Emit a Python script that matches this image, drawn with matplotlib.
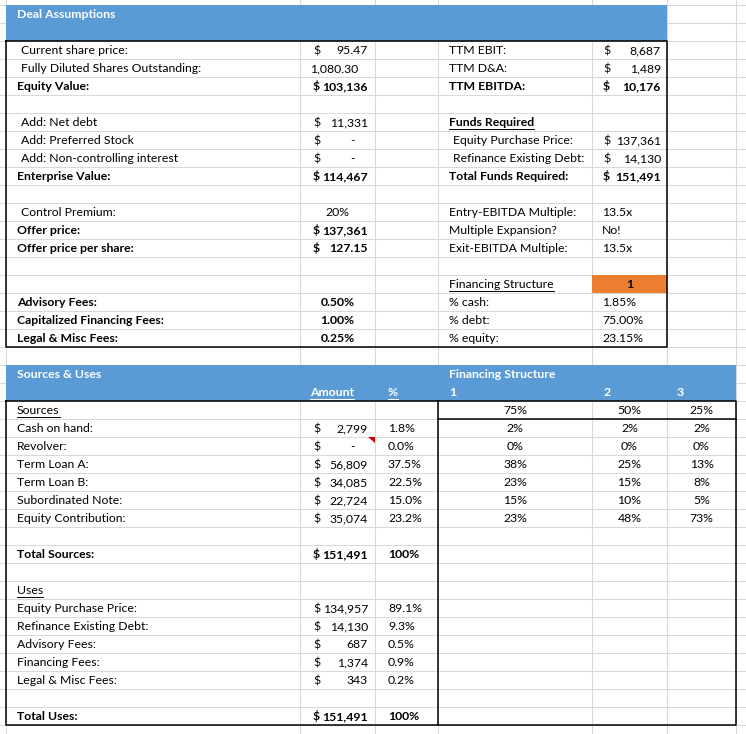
import matplotlib
matplotlib.use('Agg')
import matplotlib.pyplot as plt
from matplotlib.patches import Rectangle, Polygon

# ---------------- data ----------------
deal_title = "Deal Assumptions"
deal_left_labels = ["Current share price:", "Fully Diluted Shares Outstanding:", "Equity Value:", "",
                    "Add: Net debt", "Add: Preferred Stock", "Add: Non-controlling interest", "Enterprise Value:", "",
                    "Control Premium:", "Offer price:", "Offer price per share:", "", "",
                    "Advisory Fees:", "Capitalized Financing Fees:", "Legal & Misc Fees:"]
deal_left_values = [95.47, 1080.30, 103136, None,
                    11331, 0, 0, 114467, None,
                    0.20, 137361, 127.15, None, None,
                    0.0050, 0.0100, 0.0025]
deal_right_labels = ["TTM EBIT:", "TTM D&A:", "TTM EBITDA:", "",
                     "Funds Required", "Equity Purchase Price:", "Refinance Existing Debt:", "Total Funds Required:", "",
                     "Entry-EBITDA Multiple:", "Multiple Expansion?", "Exit-EBITDA Multiple:", "",
                     "Financing Structure", "% cash:", "% debt:", "% equity:"]
deal_right_values = [8687, 1489, 10176, None,
                     None, 137361, 14130, 151491, None,
                     13.5, "No!", 13.5, None,
                     1, 0.0185, 0.7500, 0.2315]

su_title = "Sources & Uses"
su_headers = ["Amount", "%"]
fs_title = "Financing Structure"
fs_structures = ["1", "2", "3"]
fs_debt_levels = [75, 50, 25]

source_labels = ["Cash on hand:", "Revolver:", "Term Loan A:", "Term Loan B:",
                 "Subordinated Note:", "Equity Contribution:"]
source_amounts = [2799, 0, 56809, 34085, 22724, 35074]
source_pcts = [1.8, 0.0, 37.5, 22.5, 15.0, 23.2]
fs_cash = [2, 2, 2]
fs_revolver = [0, 0, 0]
fs_term_a = [38, 25, 13]
fs_term_b = [23, 15, 8]
fs_sub_note = [15, 10, 5]
fs_equity = [23, 48, 73]
total_sources = 151491
total_sources_pct = 100

use_labels = ["Equity Purchase Price:", "Refinance Existing Debt:", "Advisory Fees:",
              "Financing Fees:", "Legal & Misc Fees:"]
use_amounts = [134957, 14130, 687, 1374, 343]
use_pcts = [89.1, 9.3, 0.5, 0.9, 0.2]
total_uses = 151491
total_uses_pct = 100

# ---------------- styles ----------------
deal_left_formats = ['acct2', 'num2', 'acct0', None, 'acct0', 'acct0', 'acct0', 'acct0', None,
                     'pct0', 'acct0', 'acct2', None, None, 'pct2', 'pct2', 'pct2']
deal_left_bold = [False, False, True, False, False, False, False, True, False,
                  False, True, True, False, False, True, True, True]
deal_left_value_bold = [False, False, True, False, False, False, False, True, False,
                        False, True, True, False, False, True, True, True]
deal_right_formats = ['acct0', 'acct0', 'acct0', None, None, 'acct0', 'acct0', 'acct0', None,
                      'mult', 'text', 'mult', None, 'orange', 'pct2l', 'pct2l', 'pct2l']
deal_right_bold = [False, False, True, False, True, False, False, True, False,
                   False, False, False, False, False, False, False, False]
deal_right_value_bold = [False, False, True, False, False, False, False, True, False,
                         False, False, False, False, True, False, False, False]
deal_right_under = [False] * 4 + [True] + [False] * 8 + [True] + [False] * 3
deal_right_indent = [0, 0, 0, 0, 0, 4, 4, 0, 0, 0, 0, 0, 0, 0, 0, 0, 0]

W, H = 746, 734
FONT = 'Lato'
FS = 8.8
GRID = '#d9d9d9'
BLUE = '#5b9bd5'
ORANGE = '#ed7d31'
BLACK = '#000000'
Y0, RH = 4.5, 18.0

fig = plt.figure(figsize=(W / 100, H / 100), dpi=100)
ax = fig.add_axes([0, 0, 1, 1])
ax.set_xlim(0, W)
ax.set_ylim(H, 0)
ax.axis('off')


def top(k):
    return Y0 + RH * k


def base(k):
    return top(k) + 14.0


col_x = [6, 300, 375, 438, 592, 667, 736]

# gridlines
for k in range(42):
    ax.plot([0, W], [top(k), top(k)], color=GRID, lw=0.75, zorder=1)
for x in col_x:
    ax.plot([x, x], [0, H], color=GRID, lw=0.75, zorder=1)

# fills
ax.add_patch(Rectangle((6, top(0)), 667 - 6, RH * 2, facecolor=BLUE, edgecolor='none', zorder=2))
ax.add_patch(Rectangle((6, top(20)), 736 - 6, RH * 2, facecolor=BLUE, edgecolor='none', zorder=2))
ax.add_patch(Rectangle((592, top(15)), 667 - 592, RH, facecolor=ORANGE, edgecolor='none', zorder=2))

# borders
LW = 1.1
ax.plot([6, 667, 667, 6, 6], [top(2), top(2), top(19), top(19), top(2)], color=BLACK, lw=LW, zorder=3)
ax.plot([6, 736, 736, 6, 6], [top(22), top(22), top(40), top(40), top(22)], color=BLACK, lw=LW, zorder=3)
ax.plot([438, 438], [top(22), top(40)], color=BLACK, lw=LW, zorder=3)
ax.plot([438, 736], [top(23), top(23)], color=BLACK, lw=LW, zorder=3)

# comment marker (revolver amount cell)
ax.add_patch(Polygon([[368, top(24)], [375, top(24)], [375, top(24) + 6.5]], closed=True,
                     facecolor='#d00000', edgecolor='none', zorder=4))

underlined = []


def txt(x, k, s, ha='left', bold=False, color=BLACK, under=False):
    t = ax.text(x, base(k), s, ha=ha, va='baseline', fontsize=FS, family=FONT,
                fontweight='bold' if bold else 'normal', color=color, zorder=5)
    if under:
        underlined.append((t, k, color))
    return t


def acct(xd, xr, k, v, dec=0, bold=False):
    txt(xd, k, "$", bold=bold)
    if v == 0:
        txt(xr - 13, k, "-", ha='right', bold=bold)
    else:
        txt(xr, k, f"{v:,.{dec}f}", ha='right', bold=bold)


# headers
txt(17, 0, deal_title, bold=True, color='white')
txt(17, 20, su_title, bold=True, color='white')
txt(449, 20, fs_title, bold=True, color='white')
txt(310, 21, su_headers[0], bold=True, color='white', under=True)
txt(388, 21, su_headers[1], bold=True, color='white', under=True)
for x, s in zip([449, 603, 677], fs_structures):
    txt(x, 21, s, bold=True, color='white')

# deal assumptions left
for i, (lab, val, fmt) in enumerate(zip(deal_left_labels, deal_left_values, deal_left_formats)):
    k = 2 + i
    if lab:
        txt(17 if deal_left_bold[i] else 21, k, lab, bold=deal_left_bold[i])
    b = deal_left_value_bold[i]
    if fmt == 'acct0':
        acct(313, 368, k, val, 0, b)
    elif fmt == 'acct2':
        acct(313, 368, k, val, 2, b)
    elif fmt == 'num2':
        txt(334.5, k, f"{val:,.2f}", ha='center', bold=b)
    elif fmt == 'pct0':
        txt(337.5, k, f"{val * 100:.0f}%", ha='center', bold=b)
    elif fmt == 'pct2':
        txt(337.5, k, f"{val * 100:.2f}%", ha='center', bold=b)

# deal assumptions right
for i, (lab, val, fmt) in enumerate(zip(deal_right_labels, deal_right_values, deal_right_formats)):
    k = 2 + i
    if lab:
        txt(449 + deal_right_indent[i], k, lab, bold=deal_right_bold[i], under=deal_right_under[i])
    b = deal_right_value_bold[i]
    if fmt == 'acct0':
        acct(603, 661, k, val, 0, b)
    elif fmt == 'mult':
        txt(602, k, f"{val:.1f}x", bold=b)
    elif fmt == 'text':
        txt(602, k, val, bold=b)
    elif fmt == 'orange':
        txt(629.5, k, f"{val}", ha='center', bold=True)
    elif fmt == 'pct2l':
        txt(602, k, f"{val * 100:.2f}%", bold=b)

# sources
fs_centers = [515, 629.5, 701.5]
txt(17, 22, "Sources", under=True)
for j, v in enumerate(fs_debt_levels):
    txt(fs_centers[j], 22, f"{v}%", ha='center')
fs_rows = [fs_cash, fs_revolver, fs_term_a, fs_term_b, fs_sub_note, fs_equity]
for i, (lab, amt, pct) in enumerate(zip(source_labels, source_amounts, source_pcts)):
    k = 23 + i
    txt(17, k, lab)
    acct(313, 368, k, amt)
    txt(388, k, f"{pct:.1f}%")
    for j, v in enumerate(fs_rows[i]):
        txt(fs_centers[j], k, f"{v}%", ha='center')
txt(17, 30, "Total Sources:", bold=True)
acct(313, 368, 30, total_sources, 0, True)
txt(388, 30, f"{total_sources_pct}%", bold=True)

# uses
txt(17, 32, "Uses", under=True)
for i, (lab, amt, pct) in enumerate(zip(use_labels, use_amounts, use_pcts)):
    k = 33 + i
    txt(17, k, lab)
    acct(313, 368, k, amt)
    txt(388, k, f"{pct:.1f}%")
txt(17, 39, "Total Uses:", bold=True)
acct(313, 368, 39, total_uses, 0, True)
txt(388, 39, f"{total_uses_pct}%", bold=True)

# underlines
fig.canvas.draw()
r = fig.canvas.get_renderer()
inv = ax.transData.inverted()
for t, k, c in underlined:
    bb = t.get_window_extent(r)
    (x0, _), (x1, _) = inv.transform([[bb.x0, bb.y0], [bb.x1, bb.y1]])
    y = base(k) + 2.0
    ax.plot([x0, x1], [y, y], color=c, lw=0.7, zorder=5)

fig.savefig('out.png', dpi=100)
